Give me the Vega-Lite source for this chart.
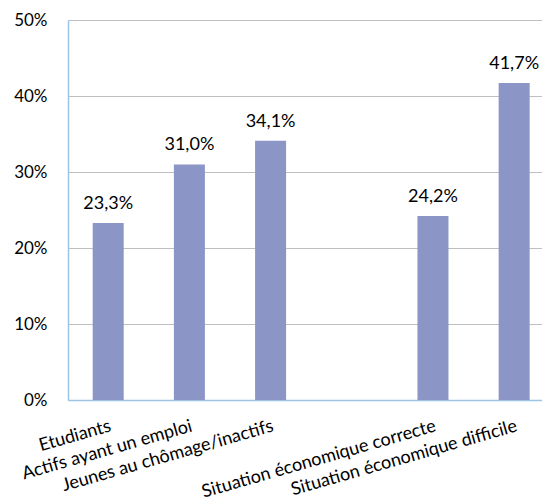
{
  "$schema": "https://vega.github.io/schema/vega-lite/v6.json",
  "width": 474,
  "height": 380,
  "autosize": "none",
  "padding": {"left": 68, "top": 20, "right": 0, "bottom": 104},
  "config": {
    "locale": {"number": {"decimal": ",", "thousands": " ", "grouping": [3], "currency": ["", " €"]}},
    "view": {"stroke": null},
    "font": "Lato"
  },
  "data": {
    "values": [
      {"groupe": "Etudiants", "part": 0.233},
      {"groupe": "Actifs ayant un emploi", "part": 0.310},
      {"groupe": "Jeunes au chômage/inactifs", "part": 0.341},
      {"groupe": "Situation économique correcte", "part": 0.242},
      {"groupe": "Situation économique difficile", "part": 0.417}
    ]
  },
  "encoding": {
    "x": {
      "field": "groupe",
      "type": "nominal",
      "sort": null,
      "scale": {
        "domain": ["Etudiants", "Actifs ayant un emploi", "Jeunes au chômage/inactifs", " ", "Situation économique correcte", "Situation économique difficile"],
        "paddingInner": 0.618,
        "paddingOuter": 0.228,
        "align": 0.667
      },
      "axis": {
        "title": null,
        "ticks": false,
        "domainColor": "#9DC3E6",
        "domainWidth": 1.5,
        "labelAngle": -16,
        "labelAlign": "right",
        "labelBaseline": "top",
        "labelPadding": 17,
        "labelFontSize": 18,
        "labelColor": "#000000",
        "labelLimit": 400,
        "labelOverlap": false,
        "labelBound": false,
        "labelFlush": false
      }
    },
    "y": {
      "field": "part",
      "type": "quantitative",
      "scale": {"domain": [0, 0.5], "nice": false},
      "axis": {
        "title": null,
        "values": [0, 0.1, 0.2, 0.3, 0.4, 0.5],
        "format": ".0%",
        "ticks": false,
        "grid": true,
        "gridColor": "#BFBFBF",
        "gridWidth": 1,
        "domainColor": "#9DC3E6",
        "domainWidth": 1.5,
        "labelPadding": 21,
        "labelFontSize": 17,
        "labelColor": "#000000"
      }
    }
  },
  "layer": [
    {"mark": {"type": "bar", "color": "#8C96C6"}},
    {
      "mark": {"type": "text", "baseline": "alphabetic", "dy": -14, "fontSize": 18, "color": "#000000"},
      "encoding": {"text": {"field": "part", "type": "quantitative", "format": ".1%"}}
    }
  ]
}
